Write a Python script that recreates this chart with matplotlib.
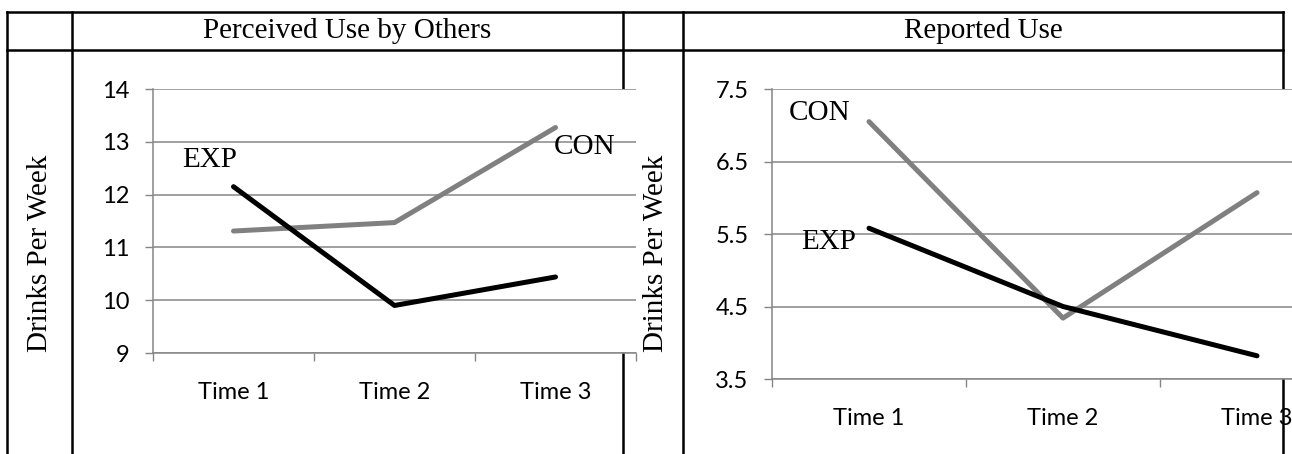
import matplotlib
matplotlib.use("Agg")
import matplotlib.pyplot as plt
from matplotlib.lines import Line2D

categories = ['Time 1', 'Time 2', 'Time 3']
perceived_exp = [12.15, 9.90, 10.44]
perceived_con = [11.31, 11.47, 13.27]
reported_exp = [5.58, 4.50, 3.82]
reported_con = [7.05, 4.34, 6.07]
perceived_ticks = [9, 10, 11, 12, 13, 14]
reported_ticks = [3.5, 4.5, 5.5, 6.5, 7.5]

W, H = 1292, 454
serif = 'Liberation Serif'
sans = 'Lato'
grid_c = '#868686'


def fx(px):
    return px / W


def fy(py):
    return 1 - py / H


fig = plt.figure(figsize=(W / 100, H / 100), dpi=100)
fig.patch.set_facecolor('white')

# table borders
def tline(x0, y0, x1, y1):
    fig.add_artist(Line2D([fx(x0), fx(x1)], [fy(y0), fy(y1)], transform=fig.transFigure,
                          color='black', lw=1.8, zorder=-1))

tline(7, 12, 1283, 12)
tline(7, 50, 1283, 50)
for xv in [7, 72, 623, 683, 1283]:
    tline(xv, 12, xv, 460)

fig.text(fx(347), fy(31), 'Perceived Use by Others', ha='center', va='center',
         fontsize=21, family=serif)
fig.text(fx(983), fy(31), 'Reported Use', ha='center', va='center',
         fontsize=21, family=serif)
fig.text(fx(40), fy(253), 'Drinks Per Week', ha='center', va='center', rotation=90,
         fontsize=21, family=serif)
fig.text(fx(656), fy(253), 'Drinks Per Week', ha='center', va='center', rotation=90,
         fontsize=21, family=serif)


def make_axes(x0, y0, x1, y1, exp, con, ticks, fmt):
    ax = fig.add_axes([fx(x0), fy(y1), (x1 - x0) / W, (y1 - y0) / H])
    ax.set_facecolor('white')
    pos = [i + 0.5 for i in range(len(categories))]
    ax.plot(pos, con, color='#808080', lw=3.6, solid_capstyle='round', zorder=3)
    ax.plot(pos, exp, color='black', lw=3.6, solid_capstyle='round', zorder=4)
    ax.set_xlim(0, len(categories))
    ax.set_ylim(ticks[0], ticks[-1])
    ax.set_yticks(ticks)
    ax.set_yticklabels([fmt.format(t) for t in ticks], family=sans, fontsize=17)
    ax.set_xticks(pos)
    ax.set_xticklabels(categories, family=sans, fontsize=17)
    ax.set_xticks(range(len(categories) + 1), minor=True)
    ax.tick_params(axis='x', which='major', length=0, pad=21)
    ax.tick_params(axis='x', which='minor', length=6, color=grid_c, width=1)
    ax.tick_params(axis='y', length=6, color=grid_c, width=1, pad=11)
    ax.grid(axis='y', color=grid_c, lw=1.1)
    ax.set_axisbelow(True)
    for s in ['top', 'right']:
        ax.spines[s].set_visible(False)
    for s in ['left', 'bottom']:
        ax.spines[s].set_color(grid_c)
        ax.spines[s].set_linewidth(1.1)
    return ax


ax1 = make_axes(153, 89, 636, 353, perceived_exp, perceived_con, perceived_ticks, '{:g}')
ax1.text(0.354, 12.65, 'EXP', ha='center', va='center', fontsize=21, family=serif)
ax1.text(2.683, 12.91, 'CON', ha='center', va='center', fontsize=21, family=serif)

ax2 = make_axes(772, 89, 1354, 379, reported_exp, reported_con, reported_ticks, '{:.1f}')
ax2.text(0.247, 7.17, 'CON', ha='center', va='center', fontsize=21, family=serif)
ax2.text(0.294, 5.39, 'EXP', ha='center', va='center', fontsize=21, family=serif)

fig.savefig('out.png', dpi=100)
